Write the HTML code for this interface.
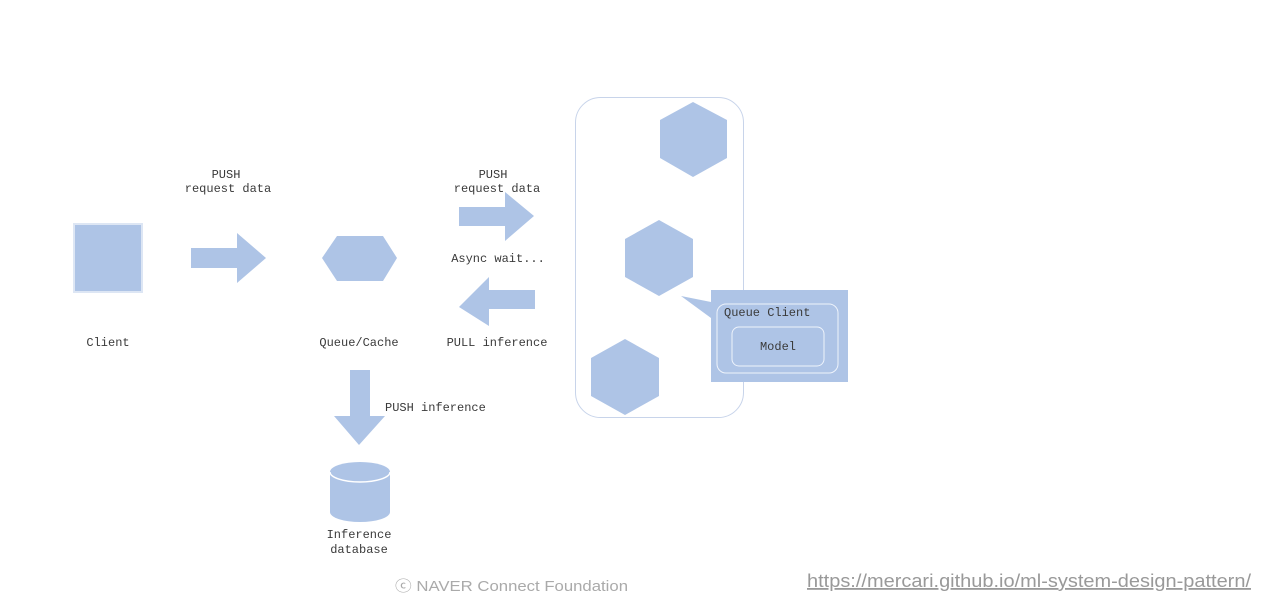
<!DOCTYPE html>
<html><head><meta charset="utf-8"><style>
html,body{margin:0;padding:0;background:#fff;width:1282px;height:610px;overflow:hidden}
svg text{font-family:"Liberation Mono",monospace;font-size:12px;fill:#3a3a3a}
</style></head><body>
<svg width="1282" height="610" viewBox="0 0 1282 610" xmlns="http://www.w3.org/2000/svg">
<g fill="#aec4e6">
<rect x="74" y="224" width="68" height="68" stroke="#dde6f4" stroke-width="2"/>
<polygon points="191,248 237,248 237,233 266,258 237,283 237,268 191,268"/>
<polygon points="322,258 337,236 383,236 397,258 383,281 337,281"/>
<polygon points="459,207 505,207 505,192 534,216 505,241 505,226 459,226"/>
<polygon points="459,307 489,277 489,290 535,290 535,309 489,309 489,326"/>
<polygon points="350,370 370,370 370,416 385,416 359,445 334,416 350,416"/>
<path d="M330,472 A30,10 0 0 1 390,472 L390,512 A30,10 0 0 1 330,512 Z"/>
</g>
<path d="M330,472 A30,10 0 0 0 390,472" fill="none" stroke="#fff" stroke-width="1.5"/>
<rect x="575.5" y="97.5" width="168" height="320" rx="25" fill="none" stroke="#c8d4ea" stroke-width="1"/>
<g fill="#aec4e6">
<polygon points="693,102 727,120 727,158 693,177 660,158 660,120"/>
<polygon points="659,220 693,239 693,277 659,296 625,277 625,239"/>
<polygon points="625,339 659,358 659,396 625,415 591,396 591,358"/>
<polygon points="681,296 711,302 711,318"/>
<rect x="711" y="290" width="137" height="92"/>
</g>
<rect x="717" y="304" width="121" height="69" rx="9" fill="none" stroke="#eef3fb" stroke-width="1"/>
<rect x="732" y="327" width="92" height="39" rx="7" fill="none" stroke="#eef3fb" stroke-width="1"/>
<g text-anchor="middle">
<text x="226" y="178">PUSH</text>
<text x="228" y="192">request data</text>
<text x="108" y="346">Client</text>
<text x="359" y="346">Queue/Cache</text>
<text x="493" y="178">PUSH</text>
<text x="497" y="192">request data</text>
<text x="498" y="262">Async wait...</text>
<text x="497" y="346">PULL inference</text>
<text x="359" y="538">Inference</text>
<text x="359" y="553">database</text>
<text x="778" y="350">Model</text>
</g>
<text x="385" y="411">PUSH inference</text>
<text x="724" y="316">Queue Client</text>
<text x="395" y="591" textLength="233" lengthAdjust="spacingAndGlyphs" style="font-family:'Liberation Sans',sans-serif;font-size:15px;fill:#aaa">ⓒ NAVER Connect Foundation</text>
<text x="807" y="587" textLength="444" lengthAdjust="spacingAndGlyphs" style="font-family:'Liberation Sans',sans-serif;font-size:18px;fill:#999;text-decoration:underline">https://mercari.github.io/ml-system-design-pattern/</text>
</svg>
</body></html>
